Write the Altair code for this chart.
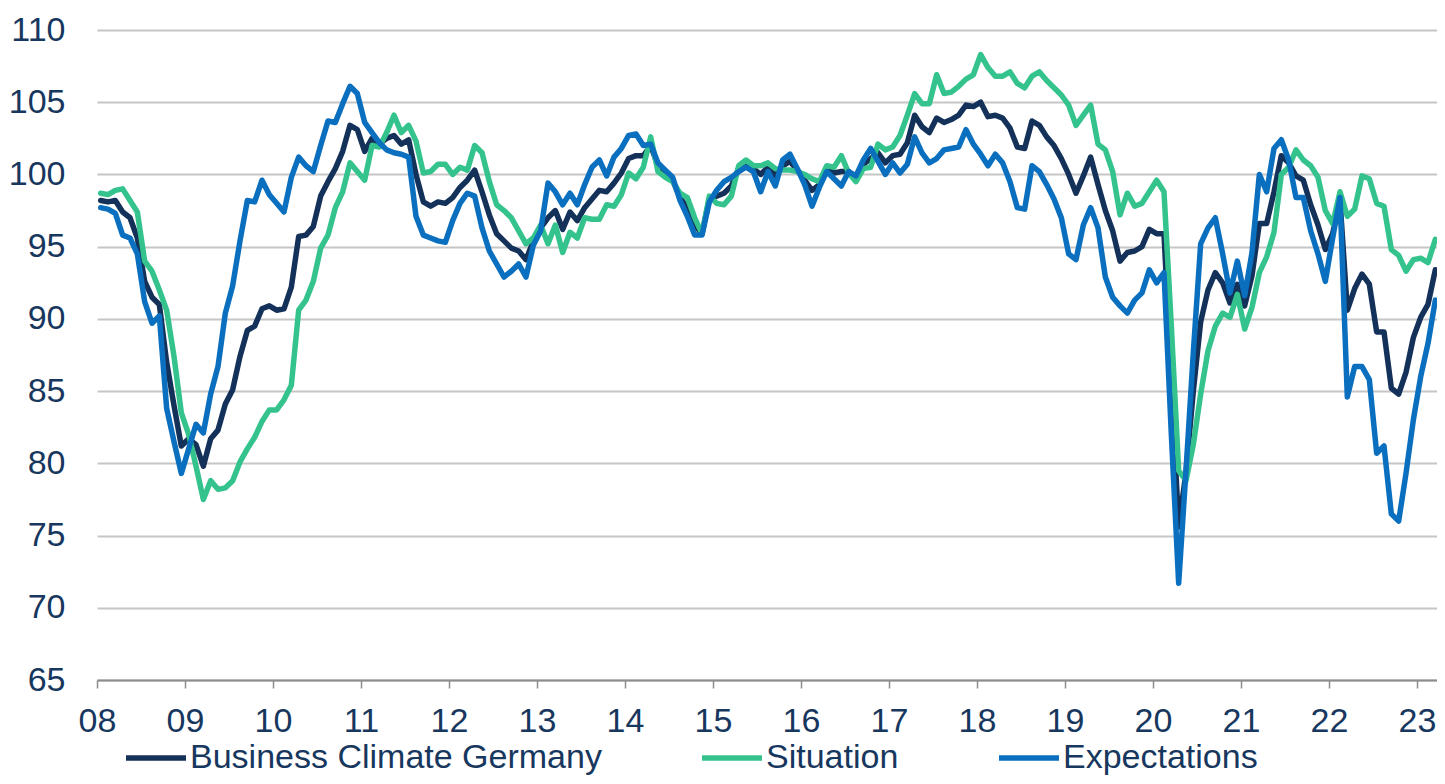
import altair as alt
import pandas as pd

# ifo Business Climate Germany, monthly, Jan 2008 .. Mar 2023 (2015 = 100)
climate = [
    98.2, 98.1, 98.2, 97.4, 97.0, 95.6, 92.6, 91.5, 91.0, 87.0, 84.0, 81.2,
    81.7, 81.3, 79.8, 81.7, 82.3, 84.1, 85.1, 87.4, 89.2, 89.5, 90.7, 90.9,
    90.6, 90.7, 92.2, 95.7, 95.8, 96.4, 98.5, 99.5, 100.4, 101.6, 103.4, 103.1,
    101.6, 102.5, 102.1, 102.5, 102.7, 102.1, 102.4, 100.0, 98.1, 97.8, 98.1, 98.0,
    98.4, 99.1, 99.6, 100.3, 98.8, 97.2, 95.9, 95.4, 94.9, 94.7, 94.1, 95.4,
    96.3, 97.0, 97.5, 96.2, 97.4, 96.8, 97.7, 98.3, 98.9, 98.8, 99.4, 100.1,
    101.1, 101.3, 101.3, 102.0, 100.6, 100.0, 99.6, 98.4, 97.7, 96.5, 95.9, 98.3,
    98.5, 98.7, 99.2, 100.4, 100.7, 100.4, 100.0, 100.5, 99.9, 100.6, 100.9, 100.3,
    99.6, 98.9, 99.3, 100.4, 100.1, 100.2, 100.2, 99.7, 100.7, 101.1, 101.5, 100.8,
    101.3, 101.4, 102.2, 104.1, 103.3, 102.9, 103.9, 103.6, 103.8, 104.1, 104.8, 104.7,
    105.0, 104.0, 104.1, 103.9, 103.2, 101.9, 101.8, 103.7, 103.4, 102.6, 102.0, 101.1,
    100.0, 98.7, 99.9, 101.2, 99.3, 97.5, 96.1, 94.0, 94.6, 94.7, 95.0, 96.2,
    95.9, 95.9, 85.8, 75.6, 79.4, 85.0, 89.8, 92.0, 93.2, 92.5, 91.1, 92.4,
    90.9, 93.0, 96.6, 96.6, 98.8, 101.3, 100.8, 99.9, 99.6, 97.9, 96.5, 94.8,
    95.9, 98.2, 90.6, 92.1, 93.1, 92.4, 89.1, 89.1, 85.2, 84.8, 86.3, 88.7,
    90.1, 91.0, 93.4,
]

situation = [
    98.7, 98.6, 98.9, 99.0, 98.2, 97.4, 94.0, 93.3, 92.0, 90.6, 87.4, 83.5,
    82.0, 79.8, 77.5, 78.8, 78.2, 78.3, 78.8, 80.1, 81.0, 81.8, 82.9, 83.7,
    83.7, 84.4, 85.4, 90.6, 91.3, 92.6, 94.9, 95.8, 97.7, 98.8, 100.8, 100.2,
    99.6, 102.0, 101.9, 102.9, 104.1, 102.9, 103.4, 102.3, 100.1, 100.2, 100.7, 100.7,
    100.0, 100.5, 100.3, 102.0, 101.5, 99.5, 97.9, 97.5, 97.0, 96.1, 95.2, 95.6,
    96.5, 95.2, 96.5, 94.6, 96.0, 95.6, 97.0, 96.9, 96.9, 97.9, 97.8, 98.6,
    100.1, 99.7, 100.5, 102.6, 100.2, 99.8, 99.5, 98.7, 98.4, 97.0, 95.9, 98.5,
    98.0, 97.9, 98.5, 100.6, 101.0, 100.6, 100.6, 100.8, 100.4, 100.3, 100.3, 100.2,
    100.0, 99.7, 99.5, 100.6, 100.5, 101.3, 100.1, 99.5, 100.4, 100.5, 102.1, 101.7,
    101.9, 102.7, 104.1, 105.6, 104.9, 104.9, 106.9, 105.6, 105.7, 106.1, 106.6, 106.9,
    108.3, 107.4, 106.8, 106.8, 107.1, 106.3, 106.0, 106.8, 107.1, 106.5, 106.0, 105.5,
    104.8, 103.4, 104.1, 104.8, 102.1, 101.7, 100.2, 97.2, 98.7, 97.8, 98.0, 98.8,
    99.6, 98.8, 89.5, 79.5, 78.8, 81.3, 84.8, 87.8, 89.5, 90.4, 90.1, 91.7,
    89.3, 90.8, 93.2, 94.3, 96.0, 100.0, 100.5, 101.7, 101.0, 100.6, 99.8, 97.5,
    96.6, 98.8, 97.1, 97.6, 99.9, 99.7, 98.0, 97.8, 94.8, 94.4, 93.3, 94.1,
    94.2, 93.9, 95.5,
]

expectations = [
    97.7, 97.6, 97.3, 95.8, 95.6, 94.5, 91.2, 89.7, 90.2, 83.8, 81.5, 79.3,
    81.0, 82.7, 82.1, 84.8, 86.7, 90.4, 92.3, 95.4, 98.2, 98.1, 99.6, 98.6,
    98.0, 97.4, 99.8, 101.2, 100.6, 100.2, 102.0, 103.7, 103.6, 104.9, 106.1, 105.6,
    103.6, 102.9, 102.2, 101.7, 101.5, 101.4, 101.2, 97.1, 95.8, 95.6, 95.4, 95.3,
    96.8, 98.0, 98.7, 98.5, 96.3, 94.7, 93.8, 92.9, 93.3, 93.8, 92.9, 95.1,
    96.1, 99.4, 98.8, 97.9, 98.7, 97.9, 99.3, 100.5, 101.0, 99.9, 101.2, 101.8,
    102.7, 102.8, 102.0, 102.1, 100.8, 100.3, 99.8, 98.2, 97.1, 95.8, 95.8, 98.1,
    98.9, 99.5, 99.8, 100.2, 100.5, 100.2, 98.8, 100.2, 99.2, 101.0, 101.4, 100.4,
    99.3, 97.8, 99.1, 100.2, 99.7, 99.2, 100.2, 99.9, 101.0, 101.8, 100.9, 100.0,
    100.8, 100.1, 100.7, 102.6, 101.5, 100.8, 101.1, 101.7, 101.8, 101.9, 103.1, 102.1,
    101.4, 100.6, 101.4, 100.8, 99.5, 97.7, 97.6, 100.6, 100.2, 99.3, 98.3, 97.0,
    94.5, 94.1, 96.5, 97.7, 96.3, 92.9, 91.5, 90.9, 90.4, 91.3, 91.8, 93.4,
    92.5, 93.2, 82.0, 71.7, 79.5, 87.7, 95.2, 96.3, 97.0, 94.5, 91.8, 94.0,
    91.6, 94.6, 100.0, 98.8, 101.8, 102.4, 101.0, 98.4, 98.4, 96.1, 94.5, 92.6,
    95.6, 98.4, 84.6, 86.7, 86.7, 85.8, 80.7, 81.2, 76.5, 76.0, 79.3, 83.0,
    86.0, 88.3, 91.3,
]

series_names = ["Business Climate Germany", "Situation", "Expectations"]
series_colors = ["#14315a", "#34c38d", "#0a6fbe"]
y_ticks = [65, 70, 75, 80, 85, 90, 95, 100, 105, 110]
x_ticks = list(range(2008, 2024))
start_year = 2008

TEXT = "#17375e"
FONT = "Liberation Sans"

rows = []
for name, vals in zip(series_names, [climate, situation, expectations]):
    for i, v in enumerate(vals):
        rows.append({"t": start_year + (i + 0.5) / 12.0, "value": v,
                     "series": name, "idx": i})
df = pd.DataFrame(rows)

color = alt.Color(
    "series:N",
    scale=alt.Scale(domain=series_names, range=series_colors),
    legend=alt.Legend(
        title=None, orient="none", legendX=26, legendY=695,
        direction="horizontal", columns=3, columnPadding=89,
        symbolType="stroke", symbolSize=3600, symbolStrokeWidth=5.5,
        labelFontSize=34, labelFont=FONT, labelColor=TEXT,
        labelOffset=1, labelLimit=800, padding=0,
    ),
)

x = alt.X(
    "t:Q",
    scale=alt.Scale(domain=[2008, 2008 + 1340 / 88.0], nice=False, zero=False),
    axis=alt.Axis(
        values=x_ticks, title=None, grid=False,
        labelExpr="substring(toString(datum.value), 2, 4)",
        tickSize=8, tickColor="#8c8c8c", tickWidth=1.5,
        domainColor="#8c8c8c", domainWidth=2,
        labelFontSize=34, labelFont=FONT, labelColor=TEXT, labelPadding=16,
        labelFlush=False, labelOverlap=False,
    ),
)

y = alt.Y(
    "value:Q",
    scale=alt.Scale(domain=[65, 110], nice=False, zero=False),
    axis=alt.Axis(
        values=y_ticks, title=None, domain=False, ticks=False,
        gridColor="#c6c6c6", gridWidth=2,
        labelFontSize=34, labelFont=FONT, labelColor=TEXT, labelPadding=32,
    ),
)

layers = []
for name in series_names:
    layers.append(
        alt.Chart(df)
        .transform_filter(alt.datum.series == name)
        .mark_line(strokeWidth=5.5, strokeJoin="round", strokeCap="round")
        .encode(x=x, y=y, color=color, order=alt.Order("idx:Q"))
    )

chart = (
    alt.layer(*layers)
    .properties(
        width=1340, height=650,
        autosize=alt.AutoSizeParams(type="none"),
        padding={"left": 89, "top": 22, "right": 0, "bottom": 96},
        background="white",
    )
    .configure_view(stroke=None)
)

chart.save("out.html", embed_options={"renderer": "svg", "actions": False})
